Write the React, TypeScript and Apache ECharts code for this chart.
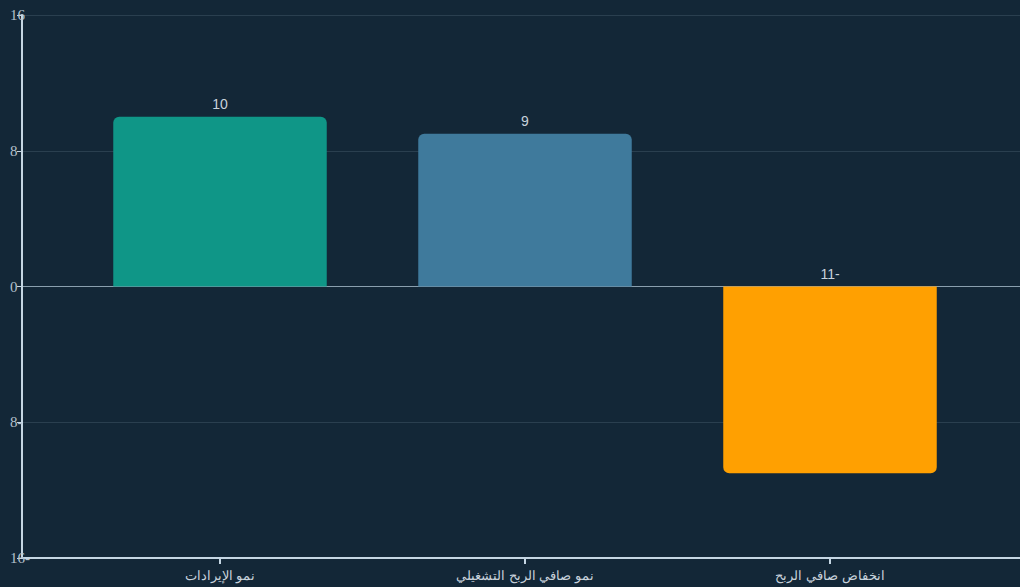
import React, { useEffect, useRef } from "react";
import * as echarts from "echarts";

const categories = ["نمو الإيرادات", "نمو صافي الربح التشغيلي", "انخفاض صافي الربح"];
const values = [10, 9, -11];
const barColors = ["#0f9687", "#3f7a9c", "#ffa001"];
const yMin = -16;
const yMax = 16;
const yInterval = 8;

export default function App() {
  const ref = useRef<HTMLDivElement>(null);
  useEffect(() => {
    if (!ref.current) return;
    const chart = echarts.init(ref.current, undefined, { renderer: "svg" });
    const axisColor = "#c5d6e3";
    const gridColor = "#2a3f4f";
    const option: any = {
      animation: false,
      backgroundColor: "#132737",
      grid: [
        { left: 67.5, right: 37.5, top: 15, bottom: 29, outerBoundsMode: "none", containLabel: false },
        { left: 22, width: 1010, top: 15, bottom: 29, outerBoundsMode: "none", containLabel: false },
      ],
      xAxis: [
        {
          type: "category",
          gridIndex: 0,
          data: categories,
          axisLine: { show: false, onZero: false },
          axisTick: { show: true, alignWithLabel: true, length: 6, lineStyle: { color: axisColor, width: 2 } },
          axisLabel: { color: "#c8d2dc", fontSize: 13, margin: 11 },
        },
        {
          type: "category",
          gridIndex: 1,
          data: [""],
          axisLine: { show: true, onZero: false, lineStyle: { color: axisColor, width: 2 } },
          axisTick: { show: false },
          axisLabel: { show: false },
        },
      ],
      yAxis: [
        { type: "value", gridIndex: 0, min: yMin, max: yMax, interval: yInterval, show: false },
        {
          type: "value",
          gridIndex: 1,
          min: yMin,
          max: yMax,
          interval: yInterval,
          axisLine: { show: true, lineStyle: { color: axisColor, width: 2 } },
          axisTick: { show: true, length: 5, lineStyle: { color: axisColor } },
          axisLabel: { color: "#b4c0cc", fontFamily: "serif", fontSize: 15, margin: 12 },
          splitLine: {
            show: true,
            lineStyle: { color: [gridColor, gridColor, "#8a9fae", gridColor, gridColor], width: 1 },
          },
        },
      ],
      series: [
        {
          type: "bar",
          xAxisIndex: 0,
          yAxisIndex: 0,
          barWidth: "70%",
          data: values.map((v, i) => ({
            value: v,
            itemStyle: {
              color: barColors[i],
              borderRadius: v >= 0 ? [6, 6, 0, 0] : [0, 0, 6, 6],
            },
          })),
          label: {
            show: true,
            position: "top",
            color: "#c8d2dc",
            fontSize: 14,
            distance: 6,
          },
        },
      ],
    };
    chart.setOption(option);
    return () => chart.dispose();
  }, []);
  return (
    <div
      ref={ref}
      style={{ position: "fixed", left: 0, top: 0, width: 1020, height: 587, direction: "rtl" }}
    />
  );
}
